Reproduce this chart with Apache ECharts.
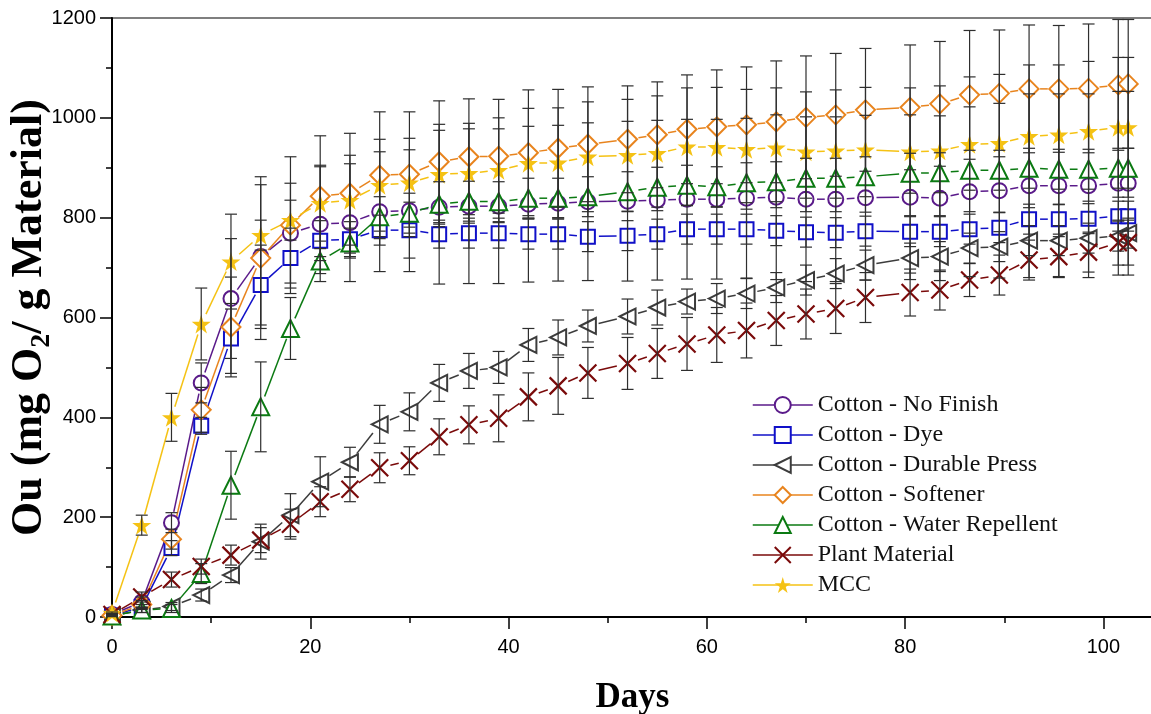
<!DOCTYPE html>
<html><head><meta charset="utf-8">
<script src="https://cdn.jsdelivr.net/npm/echarts@6/dist/echarts.min.js"></script>
<style>html,body{margin:0;padding:0;background:#fff}#c{width:1151px;height:714px}</style>
</head><body><div id="c"></div>
<script>
// ---------- DATA ----------
const days = [0,3,6,9,12,15,18,21,24,27,30,33,36,39,42,45,48,52,55,58,61,64,67,70,73,76,80.5,83.5,86.5,89.5,92.5,95.5,98.5,101.5,102.5];

const noFinish    = [5,30,189,469,638,722,769,787,790,812,814,821,823,823,827,829,832,833,835,837,837,839,841,837,837,840,841,839,852,854,864,864,864,869,869];
const noFinishErr = [2,10,20,40,120,144,100,115,118,120,122,154,155,155,156,156,158,160,160,160,160,160,165,165,165,165,165,165,170,175,184,184,184,184,184];

const dye    = [3,20,138,383,558,665,719,754,757,775,775,767,769,769,767,767,762,764,767,777,777,777,774,771,770,773,772,772,777,780,797,797,798,803,803];
const dyeErr = [1,5,15,17,70,80,60,40,35,30,56,28,30,30,30,30,30,30,30,30,30,30,30,30,30,30,30,30,30,30,30,30,30,30,30];

const durable    = [2,14,21,44,84,151,204,271,310,386,411,469,493,500,545,560,583,602,620,632,638,648,660,675,688,705,719,722,739,742,754,754,759,763,769];
const durableErr = [1,5,8,12,15,35,43,50,30,38,38,37,35,32,33,35,32,35,35,25,30,30,30,30,30,30,30,30,30,30,30,30,30,30,30];

const softener    = [3,25,156,415,581,719,785,843,849,885,887,912,922,923,930,939,947,957,966,977,982,986,992,1001,1006,1016,1021,1028,1046,1049,1058,1058,1059,1066,1068];
const softenerErr = [2,8,20,45,100,163,137,121,120,127,125,122,116,114,126,118,115,107,106,109,114,116,122,123,123,123,125,125,129,127,128,127,129,131,129];

const waterRep    = [2,14,17,87,264,421,578,713,749,802,809,827,833,832,839,839,842,852,861,865,862,870,872,879,879,882,889,890,895,895,899,897,897,899,899];
const waterRepErr = [1,5,8,20,68,90,62,25,30,40,40,45,40,40,40,40,40,40,40,40,40,40,40,40,40,40,40,40,40,40,40,40,40,40,40];

const plant    = [5,40,75,101,124,154,186,231,256,299,313,361,385,398,441,463,489,508,528,547,565,574,594,607,618,640,650,655,675,685,715,722,731,750,750];
const plantErr = [2,10,15,15,20,25,30,30,25,30,28,36,38,47,48,57,51,52,50,53,55,55,50,50,50,50,47,40,33,40,40,40,40,45,45];

const mcc    = [8,184,400,587,712,765,795,829,835,865,870,887,889,895,909,910,922,925,929,942,941,937,940,932,934,936,932,934,947,949,963,966,973,981,981];
const mccErr = [2,20,48,72,95,30,40,76,90,92,89,100,100,105,110,110,110,112,115,118,120,120,120,120,122,125,128,130,135,138,143,140,140,140,140];

const seriesNames = ['Cotton - No Finish','Cotton - Dye','Cotton - Durable Press','Cotton - Softener','Cotton - Water Repellent','Plant Material','MCC'];
const xTickLabels = [0,20,40,60,80,100];
const yTickLabels = [0,200,400,600,800,1000,1200];

// ---------- STYLE ----------
const STAR = 'path://M50,0 L61,35 L98,35 L68,57 L79,91 L50,70 L21,91 L32,57 L2,35 L39,35 Z';
const CROSS = 'path://M0,0 L10,10 M10,0 L0,10';
const specs = [
  {vals: noFinish, err: noFinishErr, color:'#5a1a8a', symbol:'circle', size:15, rot:0, filled:false},
  {vals: dye,      err: dyeErr,      color:'#1010c8', symbol:'rect', size:14, rot:0, filled:false},
  {vals: durable,  err: durableErr,  color:'#3c3c3c', symbol:'triangle', size:16, rot:90, filled:false},
  {vals: softener, err: softenerErr, color:'#e8841e', symbol:'diamond', size:19, rot:0, filled:false},
  {vals: waterRep, err: waterRepErr, color:'#0b7a12', symbol:'triangle', size:17, rot:0, filled:false},
  {vals: plant,    err: plantErr,    color:'#7a0a0a', symbol:CROSS, size:17, rot:0, filled:false, cross:true},
  {vals: mcc,      err: mccErr,      color:'#f5c214', symbol:STAR, size:19, rot:0, filled:true}
];

function segRender(color, gap, width){
  return function(params, api){
    const p1 = api.coord([api.value(0), api.value(1)]);
    const p2 = api.coord([api.value(2), api.value(3)]);
    const dx = p2[0]-p1[0], dy = p2[1]-p1[1];
    const L = Math.hypot(dx, dy);
    if (L <= 2*gap + 1) return {type:'group', children:[]};
    const ux = dx/L, uy = dy/L;
    return {type:'line', shape:{x1:p1[0]+ux*gap, y1:p1[1]+uy*gap, x2:p2[0]-ux*gap, y2:p2[1]-uy*gap},
            style:{stroke:color, lineWidth:width}};
  };
}
function errRender(params, api){
  const x = api.value(0), lo = api.value(1), hi = api.value(2);
  const a = api.coord([x, hi]), b = api.coord([x, lo]);
  const w = 6, st = {stroke:'#2e2e2e', lineWidth:1.2};
  return {type:'group', children:[
    {type:'line', shape:{x1:a[0], y1:a[1], x2:b[0], y2:b[1]}, style:st},
    {type:'line', shape:{x1:a[0]-w, y1:a[1], x2:a[0]+w, y2:a[1]}, style:st},
    {type:'line', shape:{x1:b[0]-w, y1:b[1], x2:b[0]+w, y2:b[1]}, style:st}
  ]};
}

const series = [];
specs.forEach((s, i) => {
  const segs = [];
  for (let k = 0; k < days.length - 1; k++) segs.push([days[k], s.vals[k], days[k+1], s.vals[k+1]]);
  series.push({type:'custom', name: seriesNames[i]+'_line', renderItem: segRender(s.color, 11, 1.5),
    data: segs, encode:{x:[0,2], y:[1,3]}, z: 2, silent:true});
  series.push({type:'custom', name: seriesNames[i]+'_err', renderItem: errRender,
    data: days.map((d,k)=>[d, s.vals[k]-s.err[k], s.vals[k]+s.err[k]]), encode:{x:0, y:[1,2]}, z: 4, silent:true});
  series.push({type:'line', name: seriesNames[i], data: days.map((d,k)=>[d, s.vals[k]]),
    symbol: s.symbol, symbolSize: s.size, symbolRotate: s.rot, showSymbol:true, showAllSymbol:true,
    lineStyle:{width:0, opacity:0}, z: 3,
    itemStyle: s.filled ? {color:s.color, borderWidth:0}
             : {color: s.cross ? 'rgba(0,0,0,0)' : '#ffffff', borderColor:s.color, borderWidth: s.cross ? 2.2 : 2},
    emphasis:{disabled:true}});
});

const chart = echarts.init(document.getElementById('c'), null, {renderer:'canvas'});
chart.setOption({
  animation:false,
  backgroundColor:'#ffffff',
  grid:{left:112, top:18, width:1041, height:599, show:true, borderColor:'#000', borderWidth:1.2,
        backgroundColor:'transparent', outerBoundsMode:'none', containLabel:false},
  legend:{
    orient:'vertical', left:752, top:393, padding:0, itemWidth:60, itemHeight:20, itemGap:6, selectedMode:false,
    data: seriesNames.map((n,i)=>({name:n, lineStyle:{color:specs[i].color, width:1.5, opacity:1}})),
    textStyle:{fontFamily:'Liberation Serif', fontSize:24, color:'#111'}
  },
  xAxis:{type:'value', min:0, max:105, interval:20,
    axisLine:{lineStyle:{color:'#000', width:2}},
    axisTick:{inside:false, length:12, lineStyle:{color:'#000', width:1.5}},
    minorTick:{show:true, splitNumber:2, length:6, lineStyle:{color:'#000', width:1.5}},
    splitLine:{show:false},
    axisLabel:{margin:20, fontFamily:'Liberation Sans', fontSize:20, color:'#000',
      formatter: v => xTickLabels.indexOf(v) >= 0 ? String(v) : ''},
    name:'Days', nameLocation:'middle', nameGap:63, nameMoveOverlap:false,
    nameTextStyle:{fontFamily:'Liberation Serif', fontWeight:'bold', fontSize:35, color:'#000'}
  },
  yAxis:{type:'value', min:0, max:1200, interval:200,
    axisLine:{show:true, lineStyle:{color:'#000', width:2}},
    axisTick:{show:true, inside:false, length:12, lineStyle:{color:'#000', width:1.5}},
    minorTick:{show:true, splitNumber:2, length:6, lineStyle:{color:'#000', width:1.5}},
    splitLine:{show:false},
    axisLabel:{margin:16, fontFamily:'Liberation Sans', fontSize:20, color:'#000',
      formatter: v => yTickLabels.indexOf(v) >= 0 ? String(v) : ''},
    name:'{a|Ou (mg O}{s|2}{a|/ g Material)}', nameLocation:'middle', nameGap:56, nameMoveOverlap:false,
    nameTextStyle:{rich:{
      a:{fontFamily:'Liberation Serif', fontWeight:'bold', fontSize:44, color:'#000'},
      s:{fontFamily:'Liberation Serif', fontWeight:'bold', fontSize:28, color:'#000', padding:[24,0,0,0]}
    }}
  },
  series: series
});
</script></body></html>
